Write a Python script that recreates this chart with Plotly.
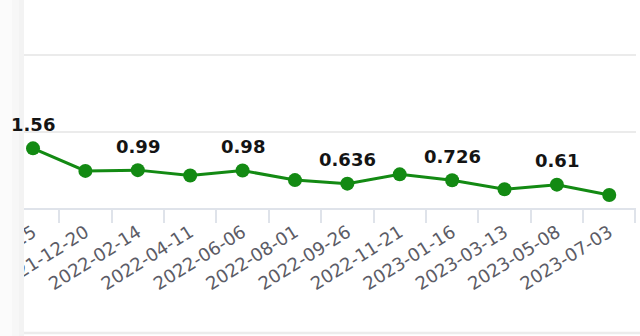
import plotly.graph_objects as go

dates = ["2021-10-25", "2021-12-20", "2022-02-14", "2022-04-11", "2022-06-06", "2022-08-01",
         "2022-09-26", "2022-11-21", "2023-01-16", "2023-03-13", "2023-05-08", "2023-07-03"]
values = [1.56, 0.97, 0.99, 0.85, 0.98, 0.73, 0.636, 0.88, 0.726, 0.49, 0.61, 0.34]
labels = ["1.56", "", "0.99", "", "0.98", "", "0.636", "", "0.726", "", "0.61", ""]

GREEN = "#138a13"
PLOT_H = 155

fig = go.Figure()
fig.add_trace(go.Scatter(
    x=dates, y=values, mode="lines+markers",
    line=dict(color=GREEN, width=3),
    marker=dict(color=GREEN, size=14),
    hoverinfo="skip", showlegend=False,
))

annotations = []
for d, v, t in zip(dates, values, labels):
    if t:
        annotations.append(dict(
            x=d, y=v, xref="x", yref="y", text=t, showarrow=False,
            yshift=24, font=dict(family="DejaVu Sans", size=18, color="#141414", weight="bold"),
        ))

shapes = [
    dict(type="rect", xref="paper", yref="paper", x0=-24/612, x1=-12/612, y0=-0.84, y1=1.4,
         fillcolor="#fbfbfb", line=dict(width=0), layer="above"),
    dict(type="rect", xref="paper", yref="paper", x0=-12/612, x1=-5/612, y0=-0.84, y1=1.4,
         fillcolor="#f7f7f7", line=dict(width=0), layer="above"),
    dict(type="rect", xref="paper", yref="paper", x0=-5/612, x1=0, y0=-0.84, y1=1.4,
         fillcolor="#f3f3f3", line=dict(width=0), layer="above"),
    dict(type="rect", xref="paper", yref="paper", x0=-24/612, x1=0, y0=-0.9, y1=-0.84,
         fillcolor="white", line=dict(width=0), layer="above"),
    dict(type="line", xref="paper", yref="paper", x0=0, x1=1.01, y0=-125/PLOT_H, y1=-125/PLOT_H,
         line=dict(color="#ececec", width=2.5)),
]

fig.update_layout(
    width=640, height=336,
    margin=dict(l=24, r=4, t=53, b=128, autoexpand=False),
    paper_bgcolor="white", plot_bgcolor="white",
    annotations=annotations, shapes=shapes,
    xaxis=dict(
        type="category", range=[-0.172, 11.51], automargin=False,
        tickson="boundaries", ticks="outside", ticklen=13, tickcolor="#dfe3ea", tickwidth=2,
        showline=True, linecolor="#dfe3ea", linewidth=2,
        showgrid=False, tickangle=-32, ticklabelstandoff=5,
        tickfont=dict(family="DejaVu Sans", size=18, color="#5c5c66"),
        fixedrange=True,
    ),
    yaxis=dict(
        range=[0, 4 * PLOT_H / 153], tickvals=[0, 2, 4], showticklabels=False, ticks="",
        showgrid=True, gridcolor="#ebebeb", gridwidth=2, automargin=False,
        zeroline=False, fixedrange=True,
    ),
)

fig.write_html("out.html")
